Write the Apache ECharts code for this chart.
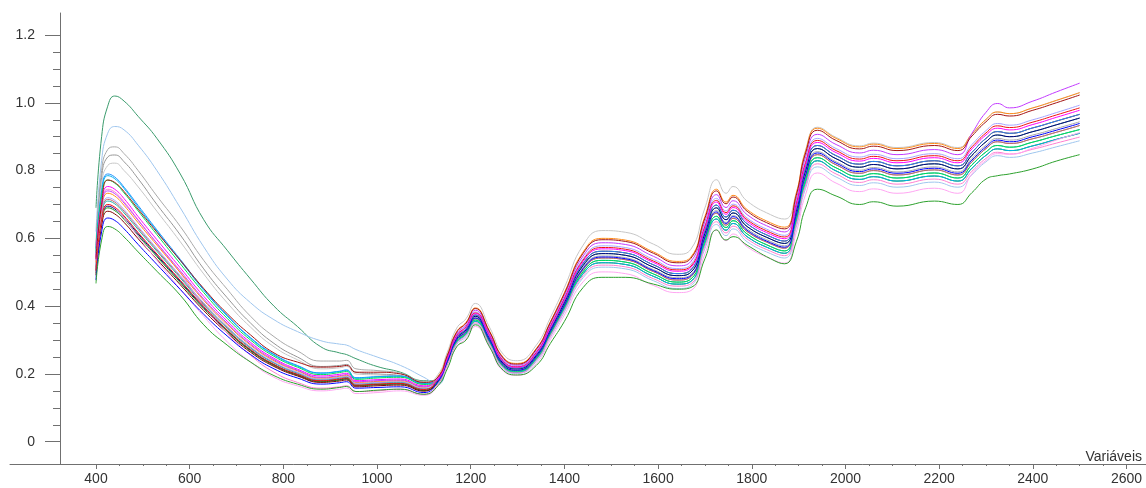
<!DOCTYPE html>
<html>
<head>
  <meta charset="utf-8">
  <script src="https://cdn.jsdelivr.net/npm/echarts@6/dist/echarts.min.js"></script>
</head>
<body style="margin: 0">
  <div id="container" style="width: 1146px; height: 488px"></div>
  <script>
    var wavelengths = [400, 412, 425, 440, 460, 490, 530, 580, 630, 680, 730, 780, 830, 880, 920, 935, 955, 1000, 1050, 1100,
      1130, 1150, 1170, 1190, 1210, 1240, 1270, 1300, 1340, 1370, 1400, 1440, 1480, 1530, 1590, 1640, 1670, 1700, 1725, 1745,
      1760, 1790, 1840, 1870, 1895, 1915, 1940, 1980, 2030, 2060, 2110, 2190, 2240, 2270, 2300, 2325, 2350, 2400, 2450, 2500];

    var xMajorTicks = [400, 600, 800, 1000, 1200, 1400, 1600, 1800, 2000, 2200, 2400, 2600];
    var xMinorTicks = [450, 500, 550, 650, 700, 750, 850, 900, 950, 1050, 1100, 1150, 1250, 1300, 1350, 1450, 1500, 1550,
      1650, 1700, 1750, 1850, 1900, 1950, 2050, 2100, 2150, 2250, 2300, 2350, 2450, 2500, 2550];
    var yMajorTicks = [0, 0.2, 0.4, 0.6, 0.8, 1.0, 1.2];
    var yMinorTicks = [0.05, 0.1, 0.15, 0.25, 0.3, 0.35, 0.45, 0.5, 0.55, 0.65, 0.7, 0.75, 0.85, 0.9, 0.95, 1.05, 1.1, 1.15];

    var teal = [0.69, 0.90, 0.99, 1.02, 1.005, 0.96, 0.895, 0.79, 0.655, 0.565, 0.48, 0.40, 0.34, 0.28, 0.262, 0.257, 0.245, 0.222, 0.205, 0.18,
      0.18, 0.24, 0.305, 0.33, 0.37, 0.305, 0.23, 0.215, 0.255, 0.33, 0.41, 0.52, 0.555, 0.55, 0.515, 0.49, 0.50, 0.615, 0.69, 0.655,
      0.675, 0.635, 0.598, 0.585, 0.68, 0.80, 0.865, 0.835, 0.81, 0.818, 0.805, 0.82, 0.805, 0.845, 0.885, 0.905, 0.90, 0.915, 0.935, 0.955];
    var lightBlue = [0.62, 0.83, 0.91, 0.93, 0.92, 0.875, 0.80, 0.69, 0.575, 0.48, 0.41, 0.36, 0.325, 0.298, 0.288, 0.285, 0.272, 0.25, 0.225, 0.19,
      0.169, 0.226, 0.287, 0.31, 0.348, 0.285, 0.214, 0.201, 0.237, 0.308, 0.383, 0.484, 0.515, 0.51, 0.475, 0.452, 0.46, 0.57, 0.641, 0.608,
      0.628, 0.59, 0.555, 0.542, 0.633, 0.748, 0.811, 0.781, 0.756, 0.764, 0.751, 0.766, 0.751, 0.788, 0.826, 0.844, 0.839, 0.852, 0.87, 0.888];
    var gray = [0.58, 0.80, 0.862, 0.87, 0.85, 0.80, 0.725, 0.635, 0.535, 0.45, 0.37, 0.31, 0.268, 0.238, 0.238, 0.24, 0.215, 0.21, 0.202, 0.178,
      0.178, 0.238, 0.302, 0.327, 0.366, 0.302, 0.227, 0.213, 0.252, 0.326, 0.406, 0.514, 0.548, 0.543, 0.508, 0.484, 0.493, 0.608, 0.682, 0.647,
      0.667, 0.628, 0.591, 0.578, 0.672, 0.791, 0.856, 0.826, 0.801, 0.809, 0.796, 0.811, 0.796, 0.836, 0.875, 0.895, 0.89, 0.905, 0.924, 0.944];
    var darkGray = [0.57, 0.78, 0.84, 0.846, 0.826, 0.776, 0.70, 0.61, 0.51, 0.425, 0.35, 0.29, 0.25, 0.222, 0.225, 0.228, 0.205, 0.2, 0.195, 0.172,
      0.176, 0.235, 0.299, 0.323, 0.363, 0.298, 0.225, 0.21, 0.249, 0.323, 0.401, 0.508, 0.542, 0.537, 0.502, 0.477, 0.487, 0.60, 0.674, 0.639,
      0.659, 0.62, 0.584, 0.571, 0.664, 0.783, 0.847, 0.817, 0.792, 0.80, 0.787, 0.802, 0.787, 0.826, 0.865, 0.885, 0.88, 0.894, 0.913, 0.933];
    var lightGray = [0.56, 0.76, 0.815, 0.822, 0.80, 0.752, 0.68, 0.59, 0.495, 0.41, 0.338, 0.28, 0.242, 0.215, 0.218, 0.222, 0.2, 0.197, 0.193, 0.17,
      0.198, 0.264, 0.335, 0.363, 0.408, 0.338, 0.257, 0.239, 0.285, 0.366, 0.455, 0.58, 0.623, 0.618, 0.583, 0.553, 0.568, 0.69, 0.773, 0.733,
      0.753, 0.71, 0.67, 0.657, 0.735, 0.861, 0.928, 0.898, 0.873, 0.881, 0.868, 0.883, 0.868, 0.908, 0.951, 0.973, 0.968, 0.985, 1.007, 1.03];
    var dodgerBlue = [0.57, 0.74, 0.79, 0.781, 0.751, 0.697, 0.625, 0.538, 0.45, 0.373, 0.307, 0.258, 0.225, 0.203, 0.208, 0.212, 0.189, 0.192, 0.194, 0.173,
      0.182, 0.242, 0.308, 0.333, 0.374, 0.308, 0.233, 0.217, 0.258, 0.334, 0.415, 0.526, 0.562, 0.557, 0.522, 0.496, 0.507, 0.623, 0.698, 0.663,
      0.683, 0.643, 0.605, 0.592, 0.688, 0.809, 0.874, 0.844, 0.819, 0.827, 0.814, 0.829, 0.814, 0.854, 0.895, 0.915, 0.91, 0.926, 0.946, 0.966];
    var skyBlue = [0.55, 0.73, 0.785, 0.776, 0.747, 0.692, 0.621, 0.534, 0.447, 0.371, 0.305, 0.256, 0.223, 0.202, 0.207, 0.21, 0.187, 0.191, 0.193, 0.172,
      0.173, 0.23, 0.293, 0.317, 0.355, 0.292, 0.219, 0.205, 0.243, 0.316, 0.392, 0.496, 0.528, 0.523, 0.488, 0.465, 0.473, 0.585, 0.657, 0.624,
      0.644, 0.605, 0.569, 0.556, 0.649, 0.765, 0.829, 0.799, 0.774, 0.782, 0.769, 0.784, 0.769, 0.807, 0.845, 0.864, 0.859, 0.873, 0.892, 0.91];
    var springGreen = [0.557, 0.724, 0.772, 0.763, 0.734, 0.681, 0.611, 0.525, 0.44, 0.364, 0.30, 0.252, 0.22, 0.198, 0.204, 0.207, 0.184, 0.188, 0.19, 0.169,
      0.175, 0.233, 0.296, 0.32, 0.359, 0.295, 0.222, 0.208, 0.246, 0.319, 0.397, 0.502, 0.535, 0.53, 0.495, 0.471, 0.48, 0.593, 0.665, 0.632,
      0.652, 0.613, 0.576, 0.563, 0.657, 0.774, 0.838, 0.808, 0.783, 0.791, 0.778, 0.793, 0.778, 0.817, 0.855, 0.874, 0.869, 0.884, 0.903, 0.921];
    var darkRed = [0.54, 0.70, 0.772, 0.765, 0.738, 0.686, 0.618, 0.535, 0.452, 0.378, 0.315, 0.262, 0.235, 0.22, 0.222, 0.225, 0.205, 0.205, 0.2, 0.175,
      0.191, 0.254, 0.323, 0.35, 0.393, 0.325, 0.246, 0.229, 0.273, 0.352, 0.437, 0.556, 0.596, 0.591, 0.556, 0.528, 0.541, 0.66, 0.74, 0.702,
      0.722, 0.68, 0.641, 0.628, 0.727, 0.852, 0.919, 0.889, 0.864, 0.872, 0.859, 0.874, 0.859, 0.902, 0.944, 0.966, 0.961, 0.978, 1.0, 1.023];
    var magenta = [0.544, 0.706, 0.753, 0.745, 0.717, 0.664, 0.596, 0.513, 0.429, 0.356, 0.293, 0.246, 0.214, 0.194, 0.199, 0.202, 0.18, 0.183, 0.185, 0.165,
      0.184, 0.245, 0.311, 0.337, 0.378, 0.312, 0.235, 0.22, 0.261, 0.337, 0.419, 0.532, 0.569, 0.564, 0.529, 0.503, 0.514, 0.63, 0.707, 0.671,
      0.691, 0.65, 0.612, 0.599, 0.696, 0.817, 0.883, 0.853, 0.828, 0.836, 0.823, 0.838, 0.823, 0.864, 0.905, 0.925, 0.92, 0.936, 0.957, 0.978];
    var violet = [0.535, 0.694, 0.74, 0.732, 0.704, 0.653, 0.586, 0.504, 0.421, 0.35, 0.288, 0.242, 0.211, 0.19, 0.195, 0.198, 0.177, 0.18, 0.182, 0.162,
      0.188, 0.251, 0.319, 0.345, 0.388, 0.32, 0.243, 0.226, 0.269, 0.347, 0.431, 0.548, 0.587, 0.582, 0.547, 0.519, 0.532, 0.65, 0.729, 0.691,
      0.711, 0.67, 0.632, 0.619, 0.716, 0.841, 0.907, 0.877, 0.852, 0.86, 0.847, 0.862, 0.847, 0.91, 0.972, 0.998, 0.985, 1.005, 1.032, 1.058];
    var orange = [0.529, 0.687, 0.733, 0.725, 0.697, 0.646, 0.58, 0.499, 0.417, 0.346, 0.285, 0.239, 0.209, 0.188, 0.193, 0.196, 0.175, 0.178, 0.18, 0.161,
      0.192, 0.256, 0.325, 0.352, 0.395, 0.327, 0.248, 0.231, 0.275, 0.354, 0.44, 0.56, 0.60, 0.595, 0.56, 0.532, 0.545, 0.665, 0.745, 0.707,
      0.727, 0.685, 0.646, 0.633, 0.732, 0.858, 0.925, 0.895, 0.87, 0.878, 0.865, 0.88, 0.865, 0.908, 0.951, 0.973, 0.968, 0.985, 1.007, 1.03];
    var pink = [0.538, 0.70, 0.745, 0.737, 0.708, 0.655, 0.585, 0.498, 0.40, 0.32, 0.255, 0.205, 0.175, 0.158, 0.162, 0.165, 0.148, 0.15, 0.155, 0.14,
      0.171, 0.228, 0.29, 0.314, 0.351, 0.289, 0.217, 0.203, 0.24, 0.312, 0.388, 0.49, 0.521, 0.516, 0.481, 0.459, 0.466, 0.578, 0.649, 0.616,
      0.636, 0.598, 0.562, 0.549, 0.641, 0.757, 0.82, 0.79, 0.765, 0.773, 0.76, 0.775, 0.76, 0.798, 0.836, 0.854, 0.849, 0.863, 0.881, 0.899];
    var lavender = [0.52, 0.675, 0.72, 0.712, 0.685, 0.635, 0.57, 0.49, 0.41, 0.34, 0.28, 0.235, 0.205, 0.185, 0.19, 0.193, 0.172, 0.175, 0.177, 0.158,
      0.186, 0.248, 0.315, 0.341, 0.383, 0.316, 0.239, 0.223, 0.265, 0.342, 0.425, 0.54, 0.578, 0.573, 0.538, 0.511, 0.523, 0.64, 0.718, 0.681,
      0.701, 0.66, 0.622, 0.609, 0.706, 0.829, 0.895, 0.865, 0.84, 0.848, 0.835, 0.85, 0.835, 0.877, 0.918, 0.939, 0.934, 0.95, 0.971, 0.993];
    var red = [0.505, 0.656, 0.70, 0.692, 0.666, 0.617, 0.554, 0.476, 0.399, 0.33, 0.272, 0.228, 0.199, 0.18, 0.185, 0.188, 0.167, 0.17, 0.172, 0.154,
      0.185, 0.246, 0.313, 0.339, 0.38, 0.314, 0.237, 0.221, 0.263, 0.34, 0.422, 0.536, 0.573, 0.568, 0.533, 0.507, 0.518, 0.635, 0.712, 0.676,
      0.696, 0.655, 0.617, 0.604, 0.701, 0.823, 0.889, 0.859, 0.834, 0.842, 0.829, 0.844, 0.829, 0.87, 0.911, 0.932, 0.927, 0.943, 0.964, 0.985];
    var rosyBrown = [0.516, 0.67, 0.715, 0.707, 0.68, 0.631, 0.566, 0.487, 0.407, 0.338, 0.278, 0.233, 0.204, 0.184, 0.189, 0.192, 0.171, 0.174, 0.176, 0.157,
      0.176, 0.235, 0.299, 0.323, 0.363, 0.298, 0.225, 0.21, 0.249, 0.323, 0.401, 0.508, 0.542, 0.537, 0.502, 0.477, 0.487, 0.60, 0.674, 0.639,
      0.659, 0.62, 0.584, 0.571, 0.664, 0.783, 0.847, 0.817, 0.792, 0.80, 0.787, 0.802, 0.787, 0.826, 0.865, 0.885, 0.88, 0.894, 0.913, 0.933];
    var darkGreen = [0.498, 0.647, 0.69, 0.682, 0.656, 0.608, 0.546, 0.469, 0.393, 0.326, 0.268, 0.225, 0.196, 0.177, 0.182, 0.185, 0.165, 0.168, 0.17, 0.151,
      0.173, 0.23, 0.293, 0.317, 0.355, 0.292, 0.219, 0.205, 0.243, 0.316, 0.392, 0.496, 0.528, 0.523, 0.488, 0.465, 0.473, 0.585, 0.657, 0.624,
      0.644, 0.605, 0.569, 0.556, 0.649, 0.765, 0.829, 0.799, 0.774, 0.782, 0.769, 0.784, 0.769, 0.807, 0.845, 0.864, 0.859, 0.873, 0.892, 0.91];
    var maroon = [0.491, 0.637, 0.68, 0.672, 0.647, 0.599, 0.538, 0.463, 0.387, 0.321, 0.264, 0.222, 0.194, 0.175, 0.179, 0.182, 0.162, 0.165, 0.167, 0.149,
      0.182, 0.242, 0.308, 0.333, 0.374, 0.308, 0.233, 0.217, 0.258, 0.334, 0.415, 0.526, 0.562, 0.557, 0.522, 0.496, 0.507, 0.623, 0.698, 0.663,
      0.683, 0.643, 0.605, 0.592, 0.688, 0.809, 0.874, 0.844, 0.819, 0.827, 0.814, 0.829, 0.814, 0.854, 0.895, 0.915, 0.91, 0.926, 0.946, 0.966];
    var blue = [0.477, 0.619, 0.66, 0.653, 0.628, 0.582, 0.523, 0.449, 0.376, 0.312, 0.257, 0.215, 0.188, 0.17, 0.174, 0.177, 0.158, 0.16, 0.162, 0.145,
      0.177, 0.236, 0.301, 0.325, 0.365, 0.30, 0.226, 0.211, 0.251, 0.325, 0.403, 0.511, 0.545, 0.54, 0.505, 0.481, 0.49, 0.604, 0.678, 0.644,
      0.664, 0.624, 0.587, 0.574, 0.669, 0.787, 0.852, 0.822, 0.797, 0.805, 0.792, 0.807, 0.792, 0.831, 0.87, 0.89, 0.885, 0.90, 0.919, 0.939];
    var green = [0.467, 0.595, 0.635, 0.628, 0.604, 0.56, 0.503, 0.432, 0.345, 0.285, 0.235, 0.195, 0.17, 0.155, 0.16, 0.163, 0.148, 0.152, 0.155, 0.14,
      0.165, 0.215, 0.28, 0.30, 0.345, 0.28, 0.21, 0.197, 0.225, 0.29, 0.355, 0.455, 0.485, 0.485, 0.465, 0.45, 0.455, 0.54, 0.625, 0.595,
      0.605, 0.58, 0.54, 0.525, 0.59, 0.69, 0.745, 0.725, 0.70, 0.708, 0.695, 0.71, 0.70, 0.735, 0.775, 0.785, 0.79, 0.805, 0.828, 0.847];
    var seaGreen = [0.513, 0.666, 0.71, 0.702, 0.675, 0.626, 0.562, 0.483, 0.404, 0.335, 0.276, 0.232, 0.202, 0.182, 0.187, 0.19, 0.17, 0.173, 0.175, 0.156,
      0.175, 0.233, 0.296, 0.32, 0.359, 0.295, 0.222, 0.208, 0.246, 0.319, 0.397, 0.502, 0.535, 0.53, 0.495, 0.471, 0.48, 0.593, 0.665, 0.632,
      0.652, 0.613, 0.576, 0.563, 0.657, 0.774, 0.838, 0.808, 0.783, 0.791, 0.778, 0.793, 0.778, 0.817, 0.855, 0.874, 0.869, 0.884, 0.903, 0.921];
    var lightPink = [0.50, 0.655, 0.70, 0.69, 0.66, 0.605, 0.535, 0.45, 0.37, 0.295, 0.235, 0.19, 0.165, 0.15, 0.155, 0.158, 0.142, 0.145, 0.15, 0.137,
      0.166, 0.221, 0.281, 0.304, 0.34, 0.279, 0.208, 0.196, 0.231, 0.301, 0.374, 0.472, 0.501, 0.496, 0.461, 0.44, 0.446, 0.555, 0.624, 0.593,
      0.613, 0.575, 0.54, 0.527, 0.618, 0.73, 0.793, 0.763, 0.738, 0.746, 0.733, 0.748, 0.733, 0.79, 0.83, 0.85, 0.848, 0.866, 0.89, 0.912];
    var navy = [0.502, 0.651, 0.695, 0.687, 0.661, 0.613, 0.55, 0.473, 0.396, 0.328, 0.27, 0.227, 0.198, 0.179, 0.183, 0.186, 0.166, 0.169, 0.171, 0.152,
      0.18, 0.24, 0.305, 0.33, 0.37, 0.305, 0.23, 0.215, 0.255, 0.33, 0.41, 0.52, 0.555, 0.55, 0.515, 0.49, 0.50, 0.615, 0.69, 0.655,
      0.675, 0.635, 0.598, 0.585, 0.68, 0.80, 0.865, 0.835, 0.81, 0.818, 0.805, 0.82, 0.805, 0.845, 0.885, 0.905, 0.90, 0.915, 0.935, 0.955];

    var spectra = [
      ['teal', '#3a9b6c', teal],
      ['lightBlue', '#9fc6ee', lightBlue],
      ['gray', '#a9a9a9', gray],
      ['darkGray', '#969696', darkGray],
      ['lightGray', '#c6c6c6', lightGray],
      ['navy', '#000080', navy],
      ['rosyBrown', '#c06868', rosyBrown],
      ['darkGreen', '#128a12', darkGreen],
      ['seaGreen', '#20b2aa', seaGreen],
      ['maroon', '#800000', maroon],
      ['dodgerBlue', '#1e90ff', dodgerBlue],
      ['skyBlue', '#00b2ee', skyBlue],
      ['springGreen', '#00dd55', springGreen],
      ['pink', '#ff7fd0', pink],
      ['lightPink', '#ffa6f2', lightPink],
      ['lavender', '#a5a5ff', lavender],
      ['blue', '#0000ff', blue],
      ['red', '#ee1111', red],
      ['magenta', '#ff00ff', magenta],
      ['orange', '#ff8c1a', orange],
      ['violet', '#c23bff', violet],
      ['darkRed', '#a31515', darkRed],
      ['green', '#2ca02c', green]
    ];

    var xMin = 216.4, xMax = 2641.6;
    var yMin = -0.0658, yMax = 1.265;
    var axisColor = '#707070';
    var textColor = '#333';
    var font = 'Liberation Sans, Arial, sans-serif';

    var dom = document.getElementById('container');
    var myChart = echarts.init(dom, null, { renderer: 'canvas' });

    var series = spectra.map(function (s) {
      return {
        name: s[0],
        type: 'line',
        data: wavelengths.map(function (w, i) { return [w, s[2][i]]; }),
        showSymbol: false,
        symbol: 'none',
        smooth: 0.5,
        silent: true,
        lineStyle: { width: 1, color: s[1] },
        itemStyle: { color: s[1] }
      };
    });

    var option = {
      animation: false,
      grid: { left: 10, right: 0, top: 13, bottom: 24 },
      xAxis: [
        {
          type: 'value', min: xMin, max: xMax, position: 'bottom',
          axisLine: { onZero: false, lineStyle: { color: axisColor, width: 1 } },
          axisTick: { show: true, customValues: xMajorTicks, length: 5, lineStyle: { color: axisColor } },
          axisLabel: {
            customValues: xMajorTicks, margin: 8, color: textColor, fontSize: 14, fontFamily: font,
            formatter: function (v) { return String(v); }
          },
          splitLine: { show: false },
          name: 'Variáveis', nameLocation: 'end', nameGap: -4,
          nameTextStyle: { align: 'right', verticalAlign: 'bottom', color: textColor, fontSize: 14, fontFamily: font }
        },
        {
          type: 'value', min: xMin, max: xMax, position: 'bottom',
          axisLine: { show: false, onZero: false },
          axisTick: { show: true, customValues: xMinorTicks, length: 2, lineStyle: { color: axisColor } },
          axisLabel: { show: false },
          splitLine: { show: false }
        }
      ],
      yAxis: [
        {
          type: 'value', min: yMin, max: yMax, position: 'left', offset: -50,
          axisLine: { show: true, onZero: false, lineStyle: { color: axisColor, width: 1 } },
          axisTick: { show: true, customValues: yMajorTicks, length: 15, lineStyle: { color: axisColor } },
          axisLabel: {
            customValues: yMajorTicks, margin: 25, color: textColor, fontSize: 14, fontFamily: font,
            formatter: function (v) { return v === 0 ? '0' : v.toFixed(1); }
          },
          splitLine: { show: false }
        },
        {
          type: 'value', min: yMin, max: yMax, position: 'left', offset: -50,
          axisLine: { show: false, onZero: false },
          axisTick: { show: true, customValues: yMinorTicks, length: 7, lineStyle: { color: axisColor } },
          axisLabel: { show: false },
          splitLine: { show: false }
        }
      ],
      series: series
    };

    myChart.setOption(option);
    window.addEventListener('resize', myChart.resize);
  </script>
</body>
</html>
